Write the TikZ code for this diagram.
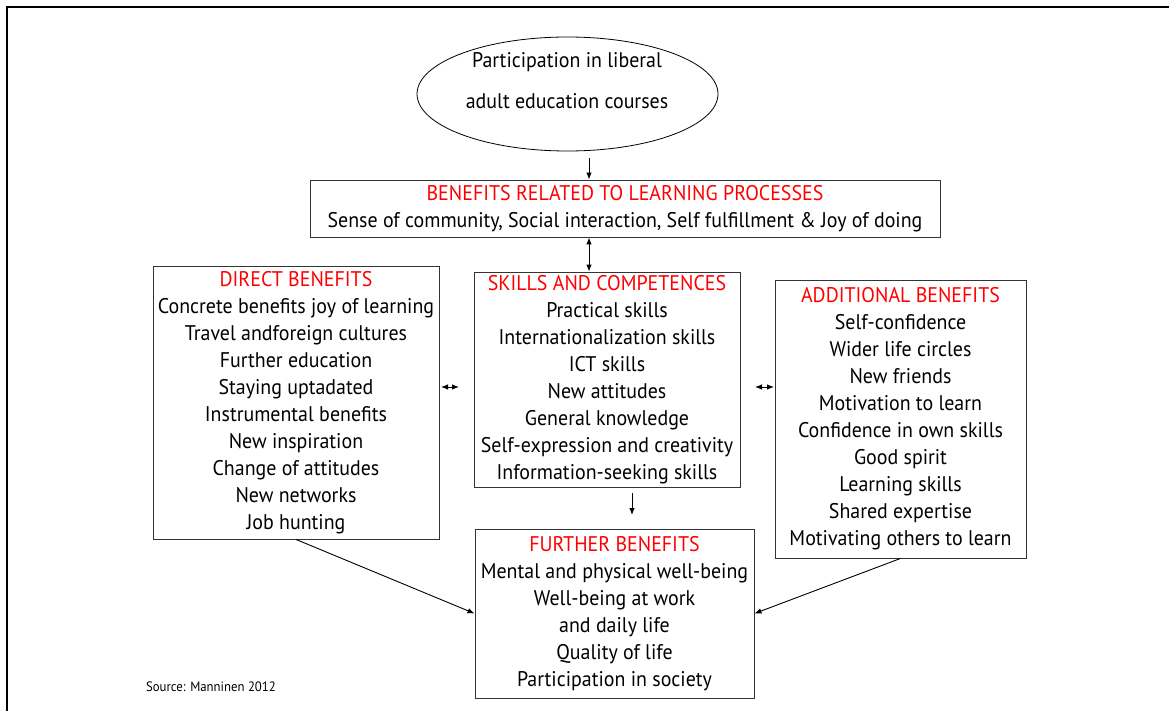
\documentclass[tikz,border=0pt]{standalone}
\usepackage{fontspec}
\setmainfont{PT Sans}[FakeStretch=0.94]
\usetikzlibrary{shapes.geometric, positioning, calc, arrows.meta}

\begin{document}
\begin{tikzpicture}[x=1pt, y=-1pt]
	\tikzstyle{box}=[draw=black!80, line width=0.9pt, align=center, inner sep=2pt, font=\fontsize{21.2}{27}\selectfont];
	\tikzstyle{arr}=[-{Latex[length=7pt, width=5.5pt]}, line width=0.9pt];
	\tikzstyle{darr}=[{Latex[length=7pt, width=5.5pt]}-{Latex[length=7pt, width=5.5pt]}, line width=0.9pt];

   \useasboundingbox (0, 0) rectangle (1169, 711);
   \clip (0, 0) rectangle (1169, 711);
   \draw[line width=2.3pt] (7, 730) -- (7, 7) -- (1190, 7);

   % course participation
   \node[ellipse, draw, line width=0.8pt, minimum width=301, minimum height=114] (part) at (567.5, 94) {};
   \node[align=center, font=\fontsize{21.2}{27}\selectfont] (parttxt) at (567, 81) {Participation in liberal\\[14pt]adult education courses};

   % benefit boxes
   \node[box, minimum width=630, minimum height=57] (learn) at (625, 208.5)
      {\textcolor{red}{BENEFITS RELATED TO LEARNING PROCESSES}\\
       Sense of community, Social interaction, Self fulfillment \& Joy of doing};
   \node[box, minimum width=266, minimum height=215] (skills) at (607, 379.5)
      {\textcolor{red}{SKILLS AND COMPETENCES}\\Practical skills\\Internationalization skills\\ICT skills\\
       New attitudes\\General knowledge\\Self-expression and creativity\\Information-seeking skills};
   \node[box, minimum width=286, minimum height=273] (direct) at (296, 402.5)
      {\textcolor{red}{DIRECT BENEFITS}\\Concrete benefits joy of learning\\Travel andforeign cultures\\
       Further education\\Staying uptadated\\Instrumental benefits\\New inspiration\\
       Change of attitudes\\New networks\\Job hunting};
   \node[box, minimum width=251, minimum height=278] (additional) at (900.5, 419)
      {\textcolor{red}{ADDITIONAL BENEFITS}\\Self-confidence\\Wider life circles\\New friends\\
       Motivation to learn\\Confidence in own skills\\Good spirit\\Learning skills\\
       Shared expertise\\Motivating others to learn};
   \node[box, minimum width=279, minimum height=169] (further) at (614.5, 613.5)
      {\textcolor{red}{FURTHER BENEFITS}\\Mental and physical well-being\\Well-being at work\\
       and daily life\\Quality of life\\Participation in society};

   \node[font=\fontsize{13.6}{16}\selectfont] (source) at (211, 687) {Source: Manninen 2012};

   % arrow ends that hang free
   \coordinate (a0) at (589, 158);
   \coordinate (a1) at (632, 493);
   \coordinate (a2) at (632, 515);
   \coordinate (l1) at (441, 387);
   \coordinate (l2) at (459, 387);
   \coordinate (r1) at (755, 387);
   \coordinate (r2) at (774, 387);

   \draw[arr] (a0) -- (a0 |- learn.north);
   \draw[darr] (learn.south -| a0) -- (skills.north -| a0);
   \draw[arr] (a1) -- (a2);
   \draw[darr] (l1) -- (l2);
   \draw[darr] (r1) -- (r2);
   \draw[arr] (direct.south) -- (further.west);
   \draw[arr] (additional.south) -- (further.east);

\end{tikzpicture}
\end{document}
